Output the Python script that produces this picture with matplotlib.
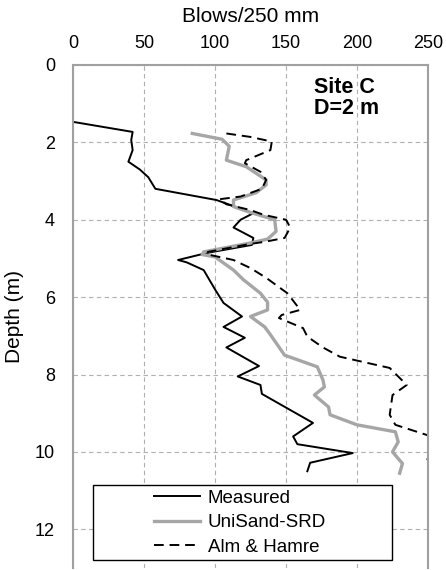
import matplotlib.pyplot as plt
from matplotlib.patches import Rectangle

plt.rcParams['font.family'] = ['Liberation Sans', 'DejaVu Sans']

# Measured blow counts (Blows/250 mm) vs depth (m)
meas_depth = [1.47, 1.73, 1.94, 2.2, 2.5, 2.7, 2.9, 3.2, 3.49, 3.83, 4.0, 4.2, 4.47, 4.65,
              4.86, 5.04, 5.1, 5.3, 5.55, 5.8, 6.15, 6.5, 6.77, 7.05, 7.3, 7.78, 8.05, 8.27,
              8.5, 9.25, 9.6, 9.8, 10.03, 10.28, 10.5]
meas_blows = [0, 42, 41, 42, 39, 47, 53, 58, 101, 127, 118, 113, 127, 126,
              94, 74, 80, 92, 96, 100, 106, 119, 106, 121, 108, 131, 116, 132,
              133, 169, 155, 158, 197, 167, 165]

# UniSand-SRD prediction
uni_depth = [1.77, 1.92, 2.1, 2.46, 2.63, 2.97, 3.1, 3.3, 3.49, 3.66, 3.8, 4.0, 4.3, 4.5,
             4.6, 4.83, 4.9, 4.96, 5.3, 5.55, 5.9, 6.13, 6.33, 6.5, 6.77, 6.97, 7.5, 7.8,
             8.14, 8.32, 8.53, 8.84, 9.04, 9.3, 9.48, 9.74, 10.0, 10.3, 10.55]
uni_blows = [84, 105, 110, 108, 122, 136, 136, 129, 113, 113, 124, 142, 143, 137,
             125, 92, 91, 100, 113, 120, 132, 137, 137, 125, 135, 139, 149, 172,
             176, 177, 170, 180, 181, 200, 227, 229, 225, 232, 230]

# Alm & Hamre prediction
alm_depth = [1.77, 1.86, 1.98, 2.2, 2.46, 2.54, 2.76, 2.97, 3.2, 3.4, 3.47, 3.6, 3.75, 3.87,
             4.0, 4.2, 4.47, 4.57, 4.63, 4.83, 4.89, 5.04, 5.25, 5.5, 5.9, 6.33, 6.46, 6.54,
             6.8, 7.02, 7.3, 7.54, 7.83, 8.27, 8.53, 9.04, 9.3, 9.56, 9.8, 10.05, 10.2]
alm_blows = [108, 125, 140, 139, 122, 121, 132, 136, 133, 118, 103, 108, 125, 134,
             150, 153, 149, 135, 124, 95, 94, 113, 125, 136, 151, 160, 147, 145,
             162, 165, 176, 188, 223, 235, 225, 223, 227, 249, 262, 258, 249]

x_ticks = [0, 50, 100, 150, 200, 250]
y_ticks = [0, 2, 4, 6, 8, 10, 12]

fig = plt.figure(figsize=(4.46, 5.7), dpi=100)
ax = fig.add_axes([0.1637, 0.0035, 0.796, 0.8825])

ax.plot(meas_blows, meas_depth, color='black', lw=1.4, label='Measured',
        solid_joinstyle='round')
ax.plot(uni_blows, uni_depth, color='#a6a6a6', lw=2.4, label='UniSand-SRD',
        solid_joinstyle='round')
ax.plot(alm_blows, alm_depth, color='black', lw=1.4, ls=(0, (5, 3)), label='Alm & Hamre',
        dash_joinstyle='round')

ax.set_xlim(0, 250)
ax.set_ylim(13, 0)
ax.set_xticks(x_ticks)
ax.set_yticks(y_ticks)
ax.xaxis.tick_top()
ax.xaxis.set_label_position('top')
ax.tick_params(length=0, labelsize=13)
ax.tick_params(axis='x', pad=9)
ax.tick_params(axis='y', pad=13)
ax.set_xlabel('Blows/250 mm', fontsize=15, labelpad=10)
ax.set_ylabel('Depth (m)', fontsize=15, labelpad=8)

ax.grid(True, color='#b0b0b0', ls=(0, (4, 3)), lw=0.8)
for side in ['top', 'left', 'right']:
    ax.spines[side].set_color('#a0a0a0')
    ax.spines[side].set_linewidth(1.5)
ax.spines['bottom'].set_visible(False)

ax.text(170, 0.3, 'Site C\nD=2 m', fontsize=15.5, fontweight='bold',
        va='top', ha='left', linespacing=1.05)

# legend with a wide box around it
ax.add_patch(Rectangle((0.056, 0.016), 0.843, 0.149, transform=ax.transAxes,
                       facecolor='white', edgecolor='black', lw=1.0, zorder=4))
leg = ax.legend(loc='center', bbox_to_anchor=(0.47, 0.09), frameon=False, fontsize=13.5,
                handlelength=2.5, handletextpad=0.4, labelspacing=0.4, borderpad=0)
leg.set_zorder(5)

fig.savefig('out.png', dpi=100)
